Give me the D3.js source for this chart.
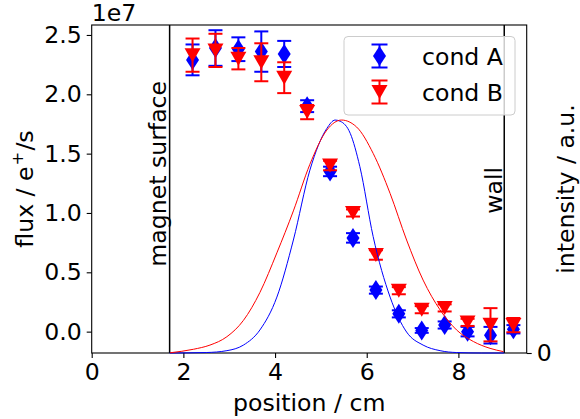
<!DOCTYPE html>
<meta charset="utf-8">
<style>
  body { margin: 0; background: #fff; }
  text { font-family: "DejaVu Sans", sans-serif; }
</style>
<script src="https://d3js.org/d3.v7.min.js"></script>
<body>
<script>

// DATA (flux in units of 1e7 e+/s)

var positions = [2.2, 2.7, 3.2, 3.7, 4.2, 4.7, 5.2, 5.7, 6.2, 6.7, 7.2, 7.7, 8.2, 8.7, 9.2];
var fluxA = [2.29, 2.39, 2.38, 2.36, 2.34, 1.90, 1.35, 0.79, 0.35, 0.15, 0.01, 0.056, 0.0, -0.03, 0.02];
var errA  = [0.13, 0.15, 0.10, 0.17, 0.11, 0.05, 0.04, 0.04, 0.03, 0.03, 0.02, 0.03, 0.04, 0.07, 0.035];
var fluxB = [2.33, 2.37, 2.30, 2.27, 2.14, 1.85, 1.40, 1.00, 0.646, 0.345, 0.185, 0.20, 0.078, 0.058, 0.055];
var errB  = [0.14, 0.14, 0.09, 0.16, 0.13, 0.06, 0.04, 0.03, 0.04, 0.03, 0.03, 0.03, 0.03, 0.14, 0.06];

// intensity profiles (a.u.)
var profAx = [1.7, 2.5, 2.95, 3.31, 3.67, 4.04, 4.40, 4.76, 5.13, 5.31, 5.42, 5.64, 5.85, 6.14, 6.51, 6.87, 7.23, 7.60, 7.96, 8.5, 9.0];
var profAy = [0, 0.002, 0.01, 0.034, 0.099, 0.24, 0.485, 0.785, 0.964, 1.0, 0.995, 0.943, 0.80, 0.50, 0.24, 0.09, 0.034, 0.01, 0.002, 0, 0];
var profBx = [1.71, 2.22, 2.58, 2.95, 3.31, 3.67, 4.04, 4.40, 4.76, 5.13, 5.45, 5.78, 6.14, 6.51, 6.87, 7.23, 7.60, 7.96, 8.33, 8.69, 8.98];
var profBy = [0.001, 0.016, 0.034, 0.07, 0.14, 0.26, 0.43, 0.61, 0.81, 0.957, 1.0, 0.97, 0.857, 0.685, 0.485, 0.313, 0.185, 0.099, 0.049, 0.02, 0.006];

var xTicks = [0, 2, 4, 6, 8];
var yTicks = [0, 0.5, 1.0, 1.5, 2.0, 2.5];
var magnetPos = 1.7;
var wallPos = 9.0;

var width = 580;
var height = 419;
var margin = { top: 25, left: 91.7, right: 53.3, bottom: 66 };
var fontSize = 23.6;

var svg = d3.select("body").append("svg")
  .attr("width", width)
  .attr("height", height);

// SCALES

var xScale = d3.scaleLinear()
  .domain([0, 9.49])
  .range([margin.left, width - margin.right]);

var yScale = d3.scaleLinear()
  .domain([-0.18, 2.584])
  .range([height - margin.bottom, margin.top]);

var y2Scale = d3.scaleLinear()
  .domain([0, 1.408])
  .range([height - margin.bottom, margin.top]);

// AXES

svg.append("g")
  .attr("transform", "translate(0," + (height - margin.bottom) + ")")
  .call(d3.axisBottom(xScale).tickValues(xTicks).tickFormat(d3.format("d")).tickSize(5).tickPadding(5));

svg.append("g")
  .attr("transform", "translate(" + margin.left + ",0)")
  .call(d3.axisLeft(yScale).tickValues(yTicks).tickFormat(d3.format(".1f")).tickSize(5).tickPadding(5));

svg.append("g")
  .attr("transform", "translate(" + (width - margin.right) + ",0)")
  .call(d3.axisRight(y2Scale).tickValues([0]).tickFormat(d3.format("d")).tickSize(5).tickPadding(5));

svg.selectAll(".domain").remove();
svg.selectAll(".tick line").attr("stroke", "#000").attr("stroke-width", 1.1);
svg.selectAll(".tick text")
  .attr("fill", "#000")
  .style("font-size", fontSize + "px")
  .style("font-family", "DejaVu Sans");

// frame
svg.append("rect")
  .attr("x", xScale(0))
  .attr("y", margin.top)
  .attr("width", xScale(9.49) - xScale(0))
  .attr("height", height - margin.bottom - margin.top)
  .attr("fill", "none")
  .attr("stroke", "#000")
  .attr("stroke-width", 1.1);

// VERTICAL MARKERS

[magnetPos, wallPos].forEach(function (p) {
  svg.append("line")
    .attr("x1", xScale(p)).attr("x2", xScale(p))
    .attr("y1", margin.top).attr("y2", height - margin.bottom)
    .attr("stroke", "#000")
    .attr("stroke-width", 1.5);
});

svg.append("text")
  .attr("transform", "translate(" + (xScale(magnetPos) - 4) + "," + yScale(1.33) + ")rotate(-90)")
  .attr("text-anchor", "middle")
  .style("font-size", fontSize + "px")
  .text("magnet surface");

svg.append("text")
  .attr("transform", "translate(" + (xScale(wallPos) - 2) + "," + yScale(1.19) + ")rotate(-90)")
  .attr("text-anchor", "middle")
  .style("font-size", fontSize + "px")
  .text("wall");

// DATA MARKERS

var diamond = "M0,-10L6.5,0L0,10L-6.5,0Z";
var triangle = "M-8,-7L8,-7L0,7Z";

function drawSeries(vals, errs, color, shape) {
  var g = svg.append("g");
  var cap = 7;
  positions.forEach(function (p, i) {
    var cx = xScale(p);
    var top = yScale(vals[i] + errs[i]);
    var bot = yScale(vals[i] - errs[i]);
    g.append("line").attr("x1", cx).attr("x2", cx).attr("y1", top).attr("y2", bot)
      .attr("stroke", color).attr("stroke-width", 2);
    g.append("line").attr("x1", cx - cap).attr("x2", cx + cap).attr("y1", top).attr("y2", top)
      .attr("stroke", color).attr("stroke-width", 2);
    g.append("line").attr("x1", cx - cap).attr("x2", cx + cap).attr("y1", bot).attr("y2", bot)
      .attr("stroke", color).attr("stroke-width", 2);
    g.append("path")
      .attr("d", shape)
      .attr("transform", "translate(" + cx + "," + yScale(vals[i]) + ")")
      .attr("fill", color);
  });
}

drawSeries(fluxA, errA, "#0000ff", diamond);
drawSeries(fluxB, errB, "#ff0000", triangle);

// INTENSITY PROFILES

var line = d3.line()
  .x(function (d) { return xScale(d[0]); })
  .y(function (d) { return y2Scale(d[1]); })
  .curve(d3.curveMonotoneX);

svg.append("path")
  .datum(d3.zip(profAx, profAy))
  .attr("d", line)
  .attr("fill", "none")
  .attr("stroke", "#0000ff")
  .attr("stroke-width", 1);

svg.append("path")
  .datum(d3.zip(profBx, profBy))
  .attr("d", line)
  .attr("fill", "none")
  .attr("stroke", "#ff0000")
  .attr("stroke-width", 1);

// LEGEND

var legend = svg.append("g");
legend.append("rect")
  .attr("x", 344).attr("y", 36.5)
  .attr("width", 171).attr("height", 78.5)
  .attr("rx", 4)
  .attr("fill", "#fff").attr("fill-opacity", 0.8)
  .attr("stroke", "#cccccc");

[["cond A", "#0000ff", diamond, 56], ["cond B", "#ff0000", triangle, 92]].forEach(function (d) {
  var cx = 379.5, cy = d[3];
  legend.append("line").attr("x1", cx).attr("x2", cx).attr("y1", cy - 11.5).attr("y2", cy + 11.5)
    .attr("stroke", d[1]).attr("stroke-width", 2);
  legend.append("line").attr("x1", cx - 8).attr("x2", cx + 8).attr("y1", cy - 11.5).attr("y2", cy - 11.5)
    .attr("stroke", d[1]).attr("stroke-width", 2);
  legend.append("line").attr("x1", cx - 8).attr("x2", cx + 8).attr("y1", cy + 11.5).attr("y2", cy + 11.5)
    .attr("stroke", d[1]).attr("stroke-width", 2);
  legend.append("path").attr("d", d[2])
    .attr("transform", "translate(" + cx + "," + cy + ")")
    .attr("fill", d[1]);
  legend.append("text")
    .attr("x", 422).attr("y", cy + 8.5)
    .style("font-size", fontSize + "px")
    .text(d[0]);
});

// LABELS

svg.append("text")
  .attr("x", (xScale(0) + xScale(9.49)) / 2)
  .attr("y", 411)
  .attr("text-anchor", "middle")
  .style("font-size", fontSize + "px")
  .text("position / cm");

var yl = svg.append("text")
  .attr("transform", "translate(33," + ((margin.top + height - margin.bottom) / 2) + ")rotate(-90)")
  .attr("text-anchor", "middle")
  .style("font-size", fontSize + "px");
yl.append("tspan").text("flux / e");
yl.append("tspan").attr("dy", -10).attr("dx", 1).style("font-size", "16.5px").text("+");
yl.append("tspan").attr("dy", 10).attr("dx", 1).text("/s");

svg.append("text")
  .attr("transform", "translate(574," + ((margin.top + height - margin.bottom) / 2) + ")rotate(-90)")
  .attr("text-anchor", "middle")
  .style("font-size", fontSize + "px")
  .text("intensity / a.u.");

svg.append("text")
  .attr("x", margin.left)
  .attr("y", 21)
  .style("font-size", fontSize + "px")
  .text("1e7");

</script>
</body>
